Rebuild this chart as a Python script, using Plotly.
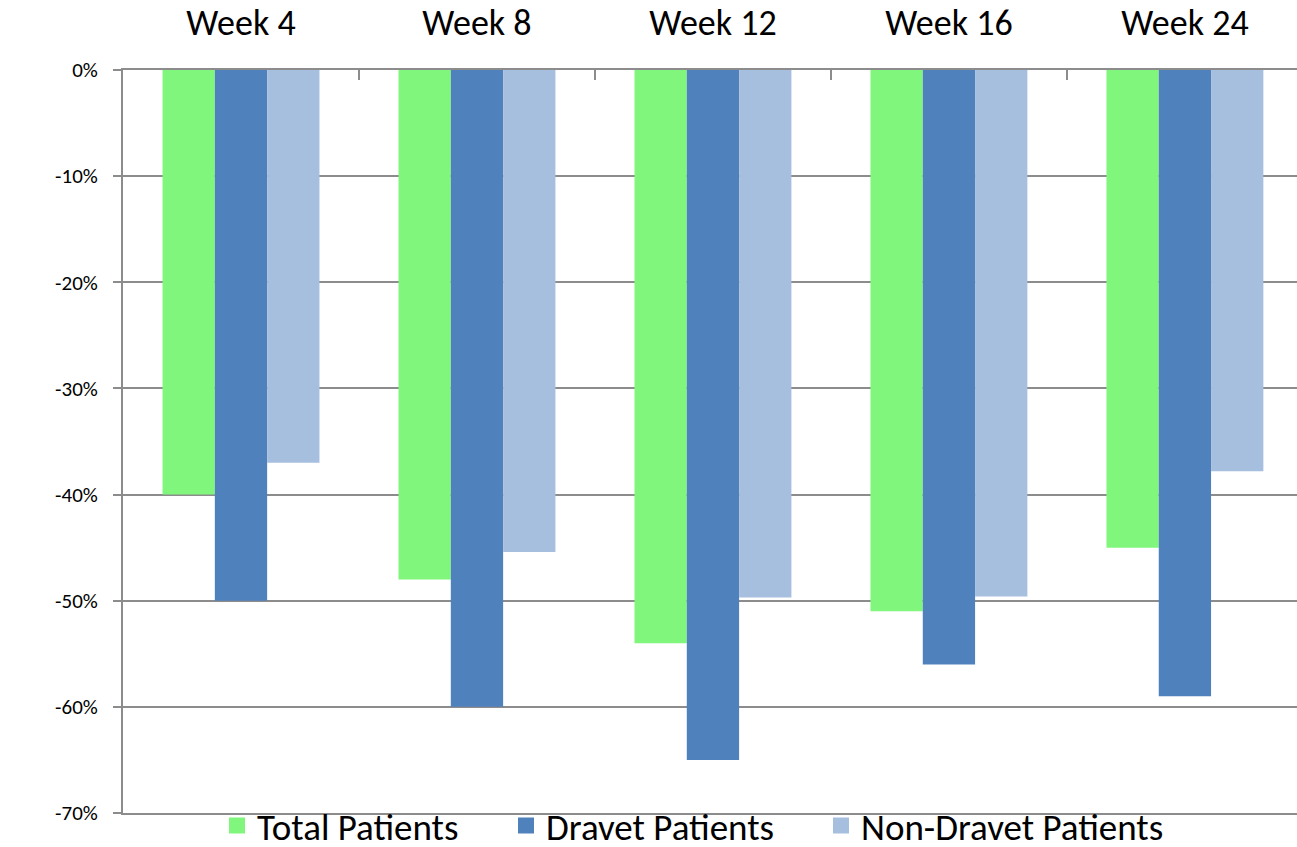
import plotly.graph_objects as go

weeks = ["Week 4", "Week 8", "Week 12", "Week 16", "Week 24"]
total_patients = [-40, -48, -54, -51, -45]
dravet_patients = [-50, -60, -65, -56, -59]
non_dravet_patients = [-37, -45.4, -49.7, -49.6, -37.8]
series_names = ["Total Patients", "Dravet Patients", "Non-Dravet Patients"]
series_colors = ["#80F77C", "#4F81BD", "#A7BFDE"]
y_ticks = [0, -10, -20, -30, -40, -50, -60, -70]
y_tick_labels = ["0%", "-10%", "-20%", "-30%", "-40%", "-50%", "-60%", "-70%"]

FONT = "Carlito, Calibri, Lato, sans-serif"
legend_ids = ["legend", "legend2", "legend3"]
legend_x_px = [217, 506, 821]

fig = go.Figure()
for name, vals, col, lid in zip(series_names, [total_patients, dravet_patients, non_dravet_patients],
                                series_colors, legend_ids):
    fig.add_trace(go.Bar(x=weeks, y=vals, name=name, marker=dict(color=col, line=dict(width=0)),
                         showlegend=False))
    # legend proxy with larger square symbol
    fig.add_trace(go.Scatter(x=[None], y=[None], mode="markers", name=name, legend=lid,
                             marker=dict(symbol="square", size=20, color=col)))

legend_common = dict(orientation="h", xref="container", yref="container",
                     xanchor="left", y=0.025, yanchor="middle",
                     font=dict(size=37, family=FONT), itemwidth=30,
                     bgcolor="rgba(0,0,0,0)")

fig.update_layout(
    width=1297, height=847,
    margin=dict(l=123, r=0, t=70, b=34, autoexpand=False),
    paper_bgcolor="white", plot_bgcolor="white",
    barmode="group", bargap=0.335, bargroupgap=0,
    font=dict(family=FONT, color="black"),
    showlegend=True,
    legend=dict(x=legend_x_px[0] / 1297, **legend_common),
    legend2=dict(x=legend_x_px[1] / 1297, **legend_common),
    legend3=dict(x=legend_x_px[2] / 1297, **legend_common),
)
fig.update_xaxes(
    side="top", type="category", range=[-0.5, 4.475],
    showline=True, linecolor="#8C8C8C", linewidth=2, mirror=True,
    ticks="inside", tickson="boundaries", ticklen=10, tickwidth=2, tickcolor="#8C8C8C",
    showgrid=False, tickfont=dict(size=36, family=FONT, color="black"),
    ticklabelstandoff=19,
)
fig.update_yaxes(
    range=[-70, 0], tickvals=y_ticks, ticktext=y_tick_labels,
    showline=True, linecolor="#8C8C8C", linewidth=2,
    ticks="outside", ticklen=8, tickwidth=2, tickcolor="#8C8C8C",
    showgrid=True, gridcolor="#8C8C8C", gridwidth=2, zeroline=False,
    tickfont=dict(size=21, family=FONT, color="black"), ticklabelstandoff=11,
)

fig.write_html("out.html", config={"displayModeBar": False},
               post_script="document.body.style.margin='0';document.body.style.padding='0';")
